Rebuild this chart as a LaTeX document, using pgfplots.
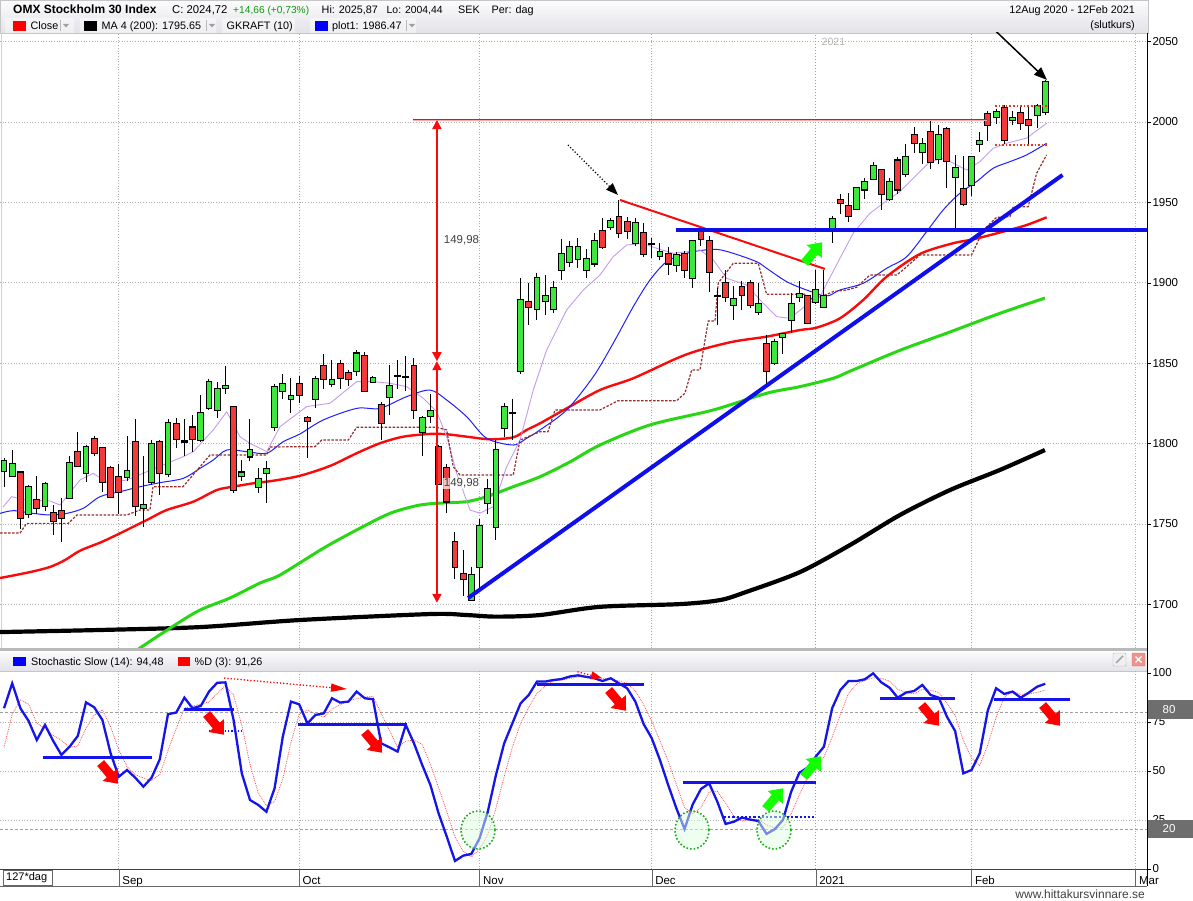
\documentclass[border=0pt]{standalone}
\usepackage{pgfplots}
\pgfplotsset{compat=1.18}
\usepackage{pgfplotstable}
\usepackage{fontspec}
\setmainfont{Liberation Sans}
\usetikzlibrary{arrows.meta}
\pgfdeclareplotmark{nomark}{}
\definecolor{cgreen}{RGB}{60,232,60}
\definecolor{cred}{RGB}{242,58,58}
\definecolor{magreen}{RGB}{40,215,20}
\definecolor{mared}{RGB}{250,10,10}
\definecolor{mablue}{RGB}{30,30,255}
\definecolor{malav}{RGB}{195,155,240}
\definecolor{madred}{RGB}{150,45,45}
\definecolor{annblue}{RGB}{15,15,235}
\definecolor{kblue}{RGB}{20,20,235}
\definecolor{dred}{RGB}{255,80,80}
\definecolor{gridc}{RGB}{175,175,175}
\definecolor{hdrtop}{RGB}{252,252,253}
\definecolor{hdrbot}{RGB}{226,226,232}
\definecolor{txtgreen}{RGB}{20,150,20}
\definecolor{boxgray}{RGB}{110,110,110}
\definecolor{dotred}{RGB}{225,60,30}
\definecolor{circgreen}{RGB}{30,170,30}

\pgfplotstableread{
i o h l c
0 1783 1791 1773 1789
1 1780 1796 1779 1787
2 1782 1782.5 1747 1754
3 1756 1774 1754 1773
4 1765 1780 1756 1760
5 1761 1776 1758 1775
6 1757 1762 1743 1752
7 1758 1766 1739 1754
8 1766 1792 1766 1788
9 1795 1807 1786 1786
10 1782 1799 1776 1798
11 1803 1805 1792 1794
12 1797 1798 1770 1776
13 1785 1786 1766 1767
14 1779 1787 1756 1770
15 1779 1805 1777 1783
16 1801 1815 1755 1761
17 1760 1792 1748 1762
18 1776 1802 1774 1800
19 1801 1802 1768 1782
20 1781 1815 1779 1813
21 1812 1816 1797 1803
22 1801.5 1815 1792 1801.2
23 1810 1818 1795 1803
24 1802 1830 1801 1819
25 1822 1840 1821 1838
26 1821 1838 1816 1834
27 1834.5 1848 1831 1836
28 1822.6 1823 1769 1771
29 1780 1790 1777 1782
30 1792 1815 1789 1796
31 1773 1785 1769 1778
32 1782 1789 1763 1784
33 1810.5 1837 1808 1835
34 1833 1843 1828 1837
35 1828 1841 1819 1829.6
36 1837 1842 1825 1830
37 1816 1817 1791 1814
38 1828 1842 1822 1840
39 1848 1856 1834 1840
40 1837 1852 1835 1839.5
41 1849.5 1852 1834 1841
42 1844 1846 1836 1840
43 1845 1858 1842 1856
44 1854.5 1857 1832 1833
45 1838.5 1842 1838 1841
46 1824 1826 1802 1813
47 1829 1849 1818 1836
48 1842.2 1852 1834 1842
49 1841.3 1854.5 1833 1841.5
50 1848.5 1853 1815 1821
51 1807 1817 1792 1816
52 1817 1831 1812.6 1820
53 1798 1799 1774 1775
54 1785 1787 1757 1764
55 1739 1745 1716 1723
56 1719 1734 1705 1716
57 1703 1723 1702 1718
58 1723 1753 1710 1749
59 1763 1778 1756 1772
60 1748 1802 1740 1796
61 1810 1825 1804 1823
62 1819.3 1828 1802 1819
63 1845 1903 1843 1889
64 1888 1900 1874 1885
65 1883.5 1906 1877 1903
66 1888.5 1905 1880 1892
67 1883.5 1901 1881 1897
68 1908 1927 1902 1918
69 1913 1926 1910 1922
70 1915 1928 1909 1922.5
71 1908 1921 1903 1915
72 1912 1931 1910 1926
73 1932 1940 1921 1922
74 1934.5 1940 1933 1938.4
75 1941 1951.5 1928 1931
76 1938 1941 1927 1932
77 1924.6 1940 1923 1937
78 1931 1937 1916 1918
79 1924.1 1928 1915.4 1923.9
80 1916.7 1925 1914 1919
81 1918 1922 1905 1912
82 1911 1919 1907 1917
83 1918 1920 1903 1908
84 1903 1926.5 1897 1926
85 1933 1935 1923 1927
86 1926 1929 1894.5 1907
87 1891.8 1897 1874 1891.6
88 1900 1908 1888 1891
89 1886 1898 1877 1890
90 1897.6 1901 1883 1892.4
91 1900 1902 1884 1886
92 1881.6 1900 1880 1887
93 1862 1867.5 1835 1845
94 1850 1865 1849 1863.4
95 1866 1868.5 1856 1868
96 1877 1893.5 1869 1886.6
97 1891.4 1901 1888 1893
98 1892 1892.5 1874.5 1875
99 1888 1908 1887 1895.5
100 1885 1908 1884 1892
101 1933 1941.5 1925 1939.5
102 1951.5 1955 1943 1949.4
103 1948 1956 1938 1941.5
104 1946 1959.5 1945 1959
105 1958 1965 1952 1962.7
106 1964.4 1975 1964 1972.6
107 1970 1971 1945 1955
108 1952 1965 1951 1962.5
109 1976 1978 1955 1958
110 1967.7 1986 1966 1978.4
111 1992 1997 1980.5 1987
112 1981.5 1990 1974 1986.3
113 1994 2001 1971 1975
114 1977 1998 1974 1992
115 1995.5 1997 1959 1976
116 1965.6 1979.5 1934 1971.2
117 1958 1979 1948 1949
118 1961 1978.5 1954 1978
119 1986 1993.5 1981 1988.4
120 2005 2006.5 1988 1998
121 2003 2008 1999 2006.4
122 2008.5 2010.5 1986 1989
123 2001 2007 1998 2002.3
124 2005.4 2009 1995 1999.6
125 2001 2010.5 1986 1998
126 2004.4 2011 1996 2010.06
127 2006 2025.87 2004.44 2024.72
}\candles

\pgfplotstableread{
i k d
0 82 62
1 94.7 79
2 82 86.2
3 75.5 84.1
4 65.8 74.4
5 73.5 71.6
6 65.3 68.2
7 58.2 65.7
8 62.4 62
9 67.9 62.8
10 85 71.8
11 82.5 78.5
12 76 81.2
13 59 72.5
14 47.1 60.7
15 50.5 52.2
16 46.6 48.1
17 42 46.4
18 46.6 45.1
19 56 48.2
20 79 60.5
21 79.8 71.6
22 87.4 82.1
23 82 83.1
24 83.2 84.2
25 90.5 85.2
26 95 89.6
27 95.2 93.6
28 76 88.7
29 48.8 73.3
30 35.2 53.3
31 32.7 38.9
32 29.2 32.4
33 41.2 34.4
34 67.5 46
35 85.4 64.7
36 84 79
37 74.3 81.2
38 78.6 79
39 79.4 77.4
40 87.1 81.7
41 84.9 83.8
42 85.4 85.8
43 90.5 86.9
44 87.1 87.7
45 86.6 88.1
46 64.1 79.3
47 62.1 70.9
48 59.9 62
49 73.5 65.2
50 64.1 65.8
51 53.1 63.6
52 42.9 53.4
53 28.4 41.5
54 16.5 29.3
55 4.1 16.3
56 6.8 9.1
57 7.7 6.2
58 15.7 10.1
59 29.2 17.5
60 48 31
61 64.1 47.1
62 74.3 62.1
63 84.5 74.3
64 88.8 82.5
65 95.6 89.6
66 95.6 93.3
67 96.4 95.9
68 96.9 96.3
69 98.2 97.2
70 98.8 98
71 98 98.3
72 97.3 98
73 95.9 97.1
74 97.3 96.8
75 94.7 96
76 92.2 94.7
77 85.4 90.8
78 74 83.9
79 66.7 75.4
80 55.6 65.4
81 42.9 55.1
82 31 43.2
83 20.4 31.4
84 33 28.1
85 40.8 31.4
86 43.7 39.2
87 34.3 39.6
88 23 33.7
89 24.1 27.1
90 26.2 24.4
91 25.2 25.2
92 24.5 25.3
93 17.9 22.5
94 20.3 20.9
95 25 21.1
96 39.4 28.2
97 49.1 37.8
98 51.7 46.7
99 57.3 52.7
100 62.4 57.1
101 82 67.2
102 91.3 78.6
103 95.9 89.7
104 95.9 94.4
105 96.8 96.2
106 99.8 97.5
107 95.2 97.3
108 92.5 95.8
109 87.4 91.7
110 90 90
111 90.8 89.4
112 93.9 91.6
113 88.8 91.2
114 87.4 90
115 77.7 84.6
116 70.4 78.5
117 48.8 65.6
118 50.5 56.6
119 59 52.8
120 81.1 63.5
121 92.2 77.4
122 89.3 87.5
123 90.5 90.7
124 87.4 89.1
125 90 89.3
126 93 90.1
127 94.48 91.26
}\stoch

\newcommand\fatarrow[4]{%
  \fill[#4, shift={(#1pt,-#2pt)}, rotate=#3] (-13pt,-4.5pt) -- (2pt,-4.5pt) -- (2pt,-10pt) -- (14pt,0pt) -- (2pt,10pt) -- (2pt,4.5pt) -- (-13pt,4.5pt) -- cycle;}
\newcommand\dropdown[1]{%
  \draw[gray!55] (#1pt,-20pt) -- (#1pt,-31pt);
  \fill[gray!75] ({#1pt+3pt},-24pt) -- ++(6pt,0pt) -- ++(-3pt,-3.5pt) -- cycle;}

\begin{document}
\begin{tikzpicture}[font=\fontsize{10.8}{13}\selectfont]
\path[use as bounding box] (0pt,0pt) rectangle (1193pt,-901pt);
% ---------- header ----------
\shade[top color=hdrtop, bottom color=hdrbot] (0pt,0pt) rectangle (1148pt,-33pt);
\draw[gray!45] (0.5pt,-0.5pt) rectangle (1148pt,-33pt);
\node[anchor=base west, inner sep=0pt, font=\bfseries\fontsize{12}{14}\selectfont] at (13pt,-14pt) {OMX Stockholm 30 Index};
\node[anchor=base west, inner sep=0pt, font=\fontsize{11.3}{13}\selectfont] at (172pt,-14pt) {C: 2024,72};
\node[anchor=base west, inner sep=0pt, text=txtgreen, font=\fontsize{10.2}{13}\selectfont] at (233pt,-14pt) {+14,66 (+0,73\%)};
\node[anchor=base west, inner sep=0pt] at (321.5pt,-14pt) {Hi: 2025,87};
\node[anchor=base west, inner sep=0pt, font=\fontsize{10.4}{13}\selectfont] at (386.5pt,-14pt) {Lo: 2004,44};
\node[anchor=base west, inner sep=0pt] at (458pt,-14pt) {SEK};
\node[anchor=base west, inner sep=0pt] at (491.5pt,-14pt) {Per: dag};
\node[anchor=base east, inner sep=0pt] at (1135pt,-14pt) {12Aug 2020 - 12Feb 2021};
\node[anchor=base east, inner sep=0pt] at (1135pt,-29pt) {(slutkurs)};
\foreach \a/\b in {5/74, 80/216, 222/295, 310/416} {\fill[white, opacity=0.45] (\a pt,-18pt) rectangle (\b pt,-33pt);}
\fill[red] (13pt,-21pt) rectangle (26pt,-31pt);
\node[anchor=base west, inner sep=0pt] at (30.5pt,-29.5pt) {Close};
\dropdown{60}
\fill[black] (84pt,-21pt) rectangle (97pt,-31pt);
\node[anchor=base west, inner sep=0pt] at (101.5pt,-29.5pt) {MA 4 (200): 1795.65};
\dropdown{206}
\node[anchor=base west, inner sep=0pt] at (226.5pt,-29.5pt) {GKRAFT (10)};
\fill[blue] (315pt,-21pt) rectangle (328pt,-31pt);
\node[anchor=base west, inner sep=0pt] at (332pt,-29.5pt) {plot1: 1986.47};
\dropdown{406}
\draw[gray!35] (1pt,-33pt) -- (1pt,-648pt);

% ---------- main panel ----------
\begin{axis}[
  at={(0pt,-33pt)}, anchor=north west, scale only axis,
  width=1147pt, height=615pt,
  xmin=-0.49, xmax=139.4, ymin=1672.9, ymax=2055.3,
  axis line style={draw=none},
  xtick=\empty,
  ytick={1700,1750,1800,1850,1900,1950,2000,2050},
  yticklabel pos=right,
  tick align=outside, major tick length=4pt,
  ytick style={draw=black, line width=0.5pt},
  yticklabel style={font=\fontsize{11.5}{13}\selectfont, /pgf/number format/1000 sep={}, xshift=-2pt},
  /pgf/number format/assume math mode=true,
  clip=true,
]
\pgfplotsinvokeforeach{1700,1750,1800,1850,1900,1950,2000,2050}{
  \draw[gridc, dotted, line width=0.7pt] (axis cs:-0.49,#1) -- (axis cs:139.4,#1);}
\pgfplotsinvokeforeach{14,36,58,79,118,138}{
  \draw[gridc, dotted, line width=0.7pt] (axis cs:#1,1672.9) -- (axis cs:#1,2055.3);}
\draw[gray!75, dotted, line width=1pt] (axis cs:99,1672.9) -- (axis cs:99,2055.3);
\node[anchor=west, text=gray!60, font=\fontsize{10.5}{12}\selectfont] at (axis cs:99.3,2049.5) {2021};

% moving averages
\addplot[black, line width=4.2pt, smooth, mark=none] coordinates {
(-0.49,1682.8) (11.71,1684.1) (23.90,1685.9) (36.10,1690.3) (51.95,1694.0) (56.43,1693.4)
(60.0,1692.4) (65.37,1693.4) (72.68,1698.5) (82.44,1700.2) (87.32,1702.7) (90.49,1707.7)
(97.07,1720.1) (103.17,1736.9) (109.27,1755.6) (115.37,1771.1) (121.46,1783.6) (126.95,1796.0)};
\addplot[magreen, line width=3pt, smooth, mark=none] coordinates {
(15.5,1668) (16.59,1672.9) (20.85,1687.2) (23.90,1696.5) (27.56,1704.0) (31.22,1713.3)
(33.66,1718.3) (38.94,1734.9) (43.01,1746.3) (47.07,1756.6) (50.73,1761.8) (53.99,1763.2)
(56.43,1763.9) (58.87,1767.0) (62.11,1773.2) (65.37,1779.4) (69.02,1788.6) (72.68,1799.1)
(78.78,1811.6) (86.50,1820.9) (93.01,1831.3) (97.07,1835.4) (101.13,1840.6) (103.17,1845)
(109.27,1858) (115.37,1869.4) (121.46,1881) (126.95,1890.5)};
\addplot[mared, line width=2.4pt, smooth, mark=none] coordinates {
(-0.49,1716.4) (3.17,1720.1) (5.61,1723.3) (7.44,1727.6) (9.27,1733.4) (11.71,1738.4)
(13.74,1743.2) (15.77,1748.3) (17.80,1753.5) (19.84,1758.7) (23.09,1763.9) (25.94,1771.1)
(27.96,1773.2) (30.40,1775.3) (32.84,1776.9) (36.10,1780.0) (39.76,1786.1) (43.01,1794.0)
(45.85,1800.2) (48.70,1804.3) (51.95,1806.0) (53.99,1805.8) (56.43,1804.3) (59.27,1802.7)
(62.11,1803.9) (63.74,1808.5) (65.37,1812.6) (68.62,1821.9) (72.68,1833.3) (76.74,1840.6)
(82.04,1853.0) (84.88,1858.2) (88.94,1863.4) (93.01,1866.5) (97.07,1870.6) (99.11,1872.1)
(101.95,1877.9) (104.79,1889.3) (107.65,1903.8) (111.71,1917.9) (115.77,1924.6) (118.21,1927.0)
(121.87,1931.8) (124.72,1935.9) (127.16,1940.7)};
\addplot[mablue, line width=1pt, smooth, mark=none] coordinates {
(-0.49,1756.6) (1.13,1758.3) (3.57,1756.6) (5.61,1755.6) (7.65,1756.6) (9.67,1759.8)
(11.71,1767.0) (14.15,1770.1) (16.59,1773.2) (19.02,1775.7) (21.87,1778.4) (23.90,1784.6)
(25.52,1789.8) (27.16,1796.0) (29.60,1795.0) (32.04,1794.0) (34.06,1801.2) (36.10,1806.0)
(38.94,1814.7) (43.01,1821.9) (45.85,1821.9) (49.11,1829.2) (51.95,1833.3) (53.99,1827.1)
(56.43,1816.7) (58.87,1803.3) (62.11,1799.1) (63.74,1803.3) (65.37,1808.5) (68.62,1820.9)
(71.87,1841.6) (74.30,1862.4) (76.74,1885.1) (78.78,1901.7) (80.82,1913.1) (83.26,1918.3)
(84.88,1920.0) (86.91,1920.8) (88.94,1918.3) (91.79,1913.1) (93.01,1909.0) (95.45,1900.7)
(97.89,1895.5) (100.33,1891.8) (101.95,1895.5) (104.79,1899.7) (107.65,1909.0) (110.09,1916.2)
(112.52,1931.8) (114.55,1945.3) (116.59,1955.7) (118.62,1962.9) (120.65,1971.2) (122.68,1975.3)
(124.72,1979.5) (127.16,1986.7)};
\addplot[malav, line width=0.9pt, mark=none] coordinates {
(-0.12,1760.6) (0.94,1767.0) (2.77,1764.9) (5.61,1764.3) (6.83,1761.8) (9.27,1777.4)
(10.89,1781.5) (12.72,1775.3) (14.96,1777.4) (15.98,1779.4) (19.84,1787.7) (21.87,1791.9)
(23.09,1795.0) (25.52,1808.5) (27.16,1819.8) (28.78,1804.3) (30.0,1800.2) (32.04,1795.0)
(33.66,1810.5) (36.91,1823.0) (39.76,1825.1) (43.01,1838.5) (45.04,1838.5) (47.07,1837.5)
(49.11,1835.4) (51.13,1828.2) (52.77,1819.8) (53.99,1804.3) (55.21,1781.5) (56.83,1758.7)
(58.05,1756.7) (59.67,1760.8) (61.30,1785.6) (62.93,1802.2) (64.55,1833.3) (66.18,1858.2)
(68.62,1883.1) (70.65,1895.5) (72.68,1904.8) (74.30,1916.2) (75.94,1923.5) (77.96,1924.5)
(79.60,1921.4) (81.62,1918.3) (83.26,1919.3) (84.88,1920.4) (86.50,1914.2) (88.13,1902.8)
(90.57,1898.6) (92.60,1887.2) (94.23,1878.9) (95.85,1877.9) (97.89,1886.2) (99.51,1891.4)
(101.95,1915.2) (103.57,1930.8) (105.61,1943.2) (107.23,1949.4) (109.27,1956.7) (111.30,1967.0)
(112.93,1975.3) (114.55,1977.4) (116.18,1973.3) (117.40,1970.1) (119.02,1975.3) (120.65,1983.6)
(122.28,1986.8) (124.72,1989.9) (127.16,1999.2)};
\addplot[madred, line width=1.2pt, dash pattern=on 2.5pt off 1.5pt, mark=none] coordinates {
(-0.49,1744.4) (1.95,1744.4) (2.77,1750.4) (7.84,1750.4) (8.90,1755.6) (14.96,1755.6)
(16.59,1758.7) (17.80,1758.7) (18.17,1773.2) (21.83,1773.2) (25.12,1792.9) (32.04,1792.9)
(32.44,1797.9) (37.93,1798.1) (38.74,1802.2) (41.99,1802.2) (43.01,1810.1) (52.77,1810.1)
(53.99,1808.5) (54.79,1785.6) (55.61,1780.5) (62.11,1780.5) (62.93,1802.2) (65.37,1807.4)
(66.34,1807.4) (67.2,1820.9) (72.68,1820.9) (74.91,1826.7) (82.04,1826.7) (83.05,1831.3)
(83.87,1845.8) (84.88,1845.8) (85.89,1876.2) (86.71,1876.2) (87.11,1899.9) (88.94,1912.1)
(91.99,1912.1) (93.01,1892.8) (97.68,1892.8) (98.70,1889.3) (101.13,1894.5) (102.77,1895.5)
(103.99,1897.2) (105.61,1904.8) (108.87,1904.8) (109.88,1909.0) (111.71,1917.3) (118.01,1917.3)
(119.43,1932.8) (121.06,1940.7) (122.68,1941.1) (123.09,1947.3) (124.91,1947.3) (125.94,1968.1)
(127.16,1979.5)};

% candlesticks: wicks, body outlines, up bodies, down bodies
\addplot[only marks, mark=nomark, forget plot,
  error bars/.cd, y dir=both, y explicit, error mark=none,
  error bar style={draw=black, solid, line width=1pt}]
  table[x=i, y=c, y error plus expr=\thisrow{h}-\thisrow{c}, y error minus expr=\thisrow{c}-\thisrow{l}] {\candles};
\addplot[only marks, mark=nomark, forget plot,
  error bars/.cd, y dir=both, y explicit, error mark=none,
  error bar style={draw=black, solid, line width=6.9pt}]
  table[x=i, y=c, y error plus expr={max(\thisrow{o},\thisrow{c})-\thisrow{c}+0.65}, y error minus expr={\thisrow{c}-min(\thisrow{o},\thisrow{c})+0.65}] {\candles};
\addplot[only marks, mark=nomark, forget plot,
  x filter/.expression={\thisrow{c}>\thisrow{o}+0.6 ? x : nan},
  error bars/.cd, y dir=both, y explicit, error mark=none,
  error bar style={draw=cgreen, solid, line width=4.9pt}]
  table[x=i, y=c, y error plus expr=0, y error minus expr=\thisrow{c}-\thisrow{o}] {\candles};
\addplot[only marks, mark=nomark, forget plot,
  x filter/.expression={\thisrow{o}>\thisrow{c}+0.6 ? x : nan},
  error bars/.cd, y dir=both, y explicit, error mark=none,
  error bar style={draw=cred, solid, line width=4.9pt}]
  table[x=i, y=c, y error plus expr=\thisrow{o}-\thisrow{c}, y error minus expr=0] {\candles};

% annotations
\draw[mared, line width=2.4pt] (axis cs:49.88,2001.2) -- (axis cs:119.88,2001.2);
\draw[red!35, line width=0.7pt] (axis cs:49.88,2001.2) -- (axis cs:119.88,2001.2);
\draw[dotred, dotted, line width=1.6pt] (axis cs:120.85,2009.9) -- (axis cs:127.3,2009.9);
\draw[dotred, dotted, line width=1.6pt] (axis cs:120.85,1985.7) -- (axis cs:127.3,1985.7);
\draw[mared, line width=1.8pt, {Triangle[length=9pt,width=9pt]}-{Triangle[length=9pt,width=9pt]}] (axis cs:52.8,2001.2) -- (axis cs:52.8,1851.2);
\draw[mared, line width=1.8pt, {Triangle[length=9pt,width=9pt]}-{Triangle[length=9pt,width=9pt]}] (axis cs:52.8,1851.2) -- (axis cs:52.8,1701.0);
\node[anchor=west, text=black!75, inner sep=1pt, font=\fontsize{11.5}{13}\selectfont] at (axis cs:53.5,1926.6) {149,98};
\node[anchor=west, text=black!75, fill=white, fill opacity=0.7, text opacity=1, inner sep=1pt, font=\fontsize{11.5}{13}\selectfont] at (axis cs:53.5,1775.3) {149,98};
\draw[mared, line width=2pt] (axis cs:75.12,1951.5) -- (axis cs:100.12,1908.6);
\draw[black, dotted, line width=1.2pt, -{Triangle[length=12pt,width=9pt]}] (axis cs:68.78,1985.7) -- (axis cs:74.88,1954.6);
\draw[black, line width=1.5pt, -{Triangle[length=13pt,width=10pt]}] (axis cs:120.85,2057) -- (axis cs:127.2,2026.1);
\draw[annblue, line width=4pt] (axis cs:56.6,1704) -- (axis cs:129.1,1967);
\draw[annblue, line width=4.5pt] (axis cs:81.95,1932.8) -- (axis cs:139.4,1932.8);
\end{axis}

% ---------- separator and lower header ----------
\fill[gray!55] (0pt,-648pt) rectangle (1147pt,-651pt);
\shade[top color=hdrtop, bottom color=hdrbot] (0pt,-651pt) rectangle (1147pt,-671pt);
\draw[gray!45] (0pt,-671pt) -- (1147pt,-671pt);
\fill[blue] (13pt,-657pt) rectangle (26pt,-666pt);
\node[anchor=base west, inner sep=0pt] at (31pt,-665.5pt) {Stochastic Slow (14): 94,48};
\fill[red] (178pt,-657pt) rectangle (190pt,-666pt);
\node[anchor=base west, inner sep=0pt] at (194.5pt,-665.5pt) {\%D (3): 91,26};
\draw[gray!60, fill=gray!12, rounded corners=1pt] (1113pt,-653pt) rectangle (1126pt,-666pt);
\draw[gray!70, line width=1.5pt] (1116pt,-663pt) -- (1123pt,-656pt);
\draw[red!60, fill={rgb,255:red,230;green,150;blue,140}, rounded corners=1pt] (1132pt,-653pt) rectangle (1145pt,-666pt);
\draw[white, line width=1.2pt] (1135.5pt,-656.5pt) -- (1141.5pt,-662.5pt) (1135.5pt,-662.5pt) -- (1141.5pt,-656.5pt);

% ---------- lower panel ----------
\begin{axis}[
  at={(0pt,-671pt)}, anchor=north west, scale only axis,
  width=1147pt, height=198pt,
  xmin=-0.49, xmax=139.4, ymin=0, ymax=101,
  axis line style={draw=none},
  xtick={14,36,58,79,99,118,138},
  xticklabels={Sep,Oct,Nov,Dec,2021,Feb,Mar},
  xtick style={draw=none},
  xticklabel style={anchor=north west, font=\fontsize{11.5}{13}\selectfont},
  ytick={0,25,50,75,100},
  yticklabel pos=right,
  tick align=outside, major tick length=4pt,
  ytick style={draw=black, line width=0.5pt},
  yticklabel style={font=\fontsize{11.5}{13}\selectfont, xshift=-2pt},
  /pgf/number format/assume math mode=true,
  clip=true,
]
\pgfplotsinvokeforeach{25,50,75}{
  \draw[gridc, dotted, line width=0.7pt] (axis cs:-0.49,#1) -- (axis cs:139.4,#1);}
\pgfplotsinvokeforeach{20,80}{
  \draw[gray!75, dash pattern=on 3pt off 2pt, line width=0.7pt] (axis cs:-0.49,#1) -- (axis cs:139.4,#1);}
\pgfplotsinvokeforeach{14,36,58,79,118,138}{
  \draw[gridc, dotted, line width=0.7pt] (axis cs:#1,0) -- (axis cs:#1,101);}
\draw[gray!75, dotted, line width=1pt] (axis cs:99,0) -- (axis cs:99,101);

\addplot[dred, line width=0.8pt, densely dotted, mark=none] table[x=i, y=d] {\stoch};
\addplot[kblue, line width=2.3pt, mark=none] table[x=i, y=k] {\stoch};

\draw[kblue, line width=3pt] (axis cs:4.8,57) -- (axis cs:18.0,57);
\draw[kblue, line width=3pt] (axis cs:21.9,81.6) -- (axis cs:28.05,81.6);
\draw[kblue, line width=1.2pt, dotted] (axis cs:25,70.4) -- (axis cs:29,70.4);
\draw[kblue, line width=3pt] (axis cs:35.9,73.5) -- (axis cs:49.1,73.5);
\draw[kblue, line width=3pt] (axis cs:65.0,93.9) -- (axis cs:78.0,93.9);
\draw[kblue, line width=3pt] (axis cs:82.8,44) -- (axis cs:99.0,44);
\draw[kblue, line width=2.2pt, dotted] (axis cs:87.8,26.7) -- (axis cs:99.0,26.7);
\draw[kblue, line width=3pt] (axis cs:106.8,87.1) -- (axis cs:116.0,87.1);
\draw[kblue, line width=3pt] (axis cs:120.8,86.7) -- (axis cs:130.0,86.7);
\draw[red, dotted, line width=1.3pt, -{Triangle[length=16pt,width=8pt]}] (axis cs:26.83,97.4) -- (axis cs:41.83,91.8);
\draw[red, dotted, line width=1.3pt, -{Triangle[length=11pt,width=8pt]}] (axis cs:69.94,100.6) -- (axis cs:72.93,97.4);
\end{axis}

% ---------- lower decorations ----------
\foreach \cx in {478,692,774} {
  \draw[circgreen, dotted, line width=1.6pt, fill=green!12, fill opacity=0.5] (\cx pt,-830pt) ellipse [x radius=17pt, y radius=19pt];}
\fatarrow{109}{773}{-50}{red}
\fatarrow{215}{724}{-50}{red}
\fatarrow{373}{742}{-50}{red}
\fatarrow{617}{700}{-50}{red}
\fatarrow{930}{715}{-50}{red}
\fatarrow{1051}{715}{-50}{red}
\fatarrow{774}{799}{50}{green!90!lime}
\fatarrow{812}{767}{50}{green!90!lime}
\fatarrow{813}{253}{50}{green!90!lime}

\fill[boxgray] (1148pt,-700pt) rectangle (1193pt,-719pt);
\node[text=white, font=\fontsize{11.5}{13}\selectfont] at (1169pt,-709.5pt) {80};
\fill[boxgray] (1148pt,-820pt) rectangle (1193pt,-838pt);
\node[text=white, font=\fontsize{11.5}{13}\selectfont] at (1169pt,-829pt) {20};

\draw[black!75, line width=0.8pt] (0pt,-869pt) -- (1147pt,-869pt);
\draw[black!60, line width=0.8pt] (0pt,-886pt) -- (1147pt,-886pt);
\foreach \xx in {118.8,299.2,479.6,651.8,815.8,971.6,1135.6} {\draw[black!60] (\xx pt,-869pt) -- (\xx pt,-886pt);}
\draw[black!60, fill=white] (3pt,-870.5pt) rectangle (52pt,-885pt);
\node[anchor=west, inner sep=0pt, font=\fontsize{11}{13}\selectfont] at (6pt,-877.8pt) {127*dag};
\draw[black, line width=0.8pt] (1147pt,-33pt) -- (1147pt,-886pt);
\node[anchor=base east, inner sep=0pt, text=black!75, font=\fontsize{12}{14}\selectfont] at (1145pt,-898pt) {www.hittakursvinnare.se};
\end{tikzpicture}
\end{document}
